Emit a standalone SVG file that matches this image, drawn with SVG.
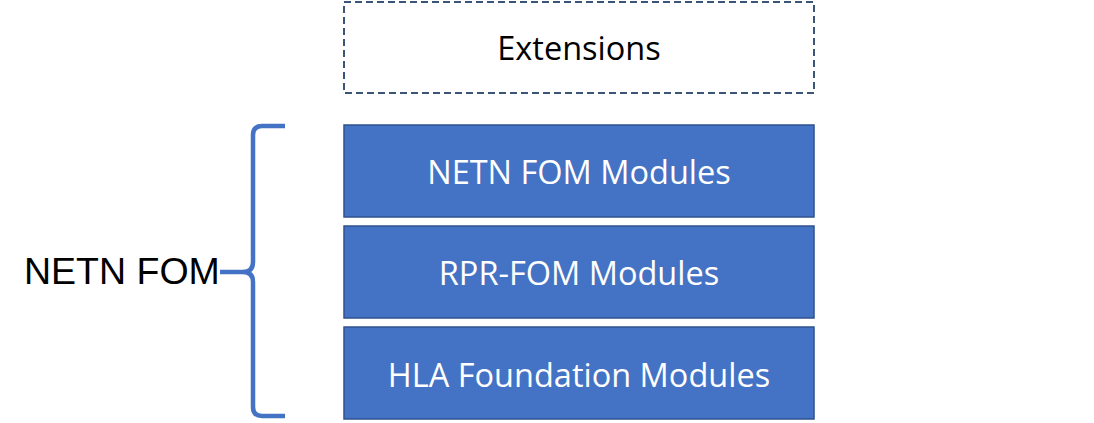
<svg xmlns="http://www.w3.org/2000/svg" width="1094" height="423" viewBox="0 0 1094 423">
<style>
.box{fill:#4472C4;stroke:#2F528F;stroke-width:1.5}
.lbl{font-family:"Open Sans","Liberation Sans",sans-serif;font-size:32.5px;text-anchor:middle;fill:#fff}
.ext{fill:#fff;stroke:#3B5578;stroke-width:2;stroke-dasharray:7,4}
.brace{fill:none;stroke:#4472C4;stroke-width:4.5}
</style>
<rect width="1094" height="423" fill="#fff"/>
<g id="extensions">
<rect class="ext" x="344" y="2" width="470" height="91"/>
<text class="lbl" x="579" y="60" style="fill:#000">Extensions</text>
</g>
<g id="netn-fom-modules">
<rect class="box" x="344" y="125" width="470" height="92"/>
<text class="lbl" x="579" y="184">NETN FOM Modules</text>
</g>
<g id="rpr-fom-modules">
<rect class="box" x="344" y="226" width="470" height="92"/>
<text class="lbl" x="579" y="285">RPR-FOM Modules</text>
</g>
<g id="hla-foundation-modules">
<rect class="box" x="344" y="327" width="470" height="92"/>
<text class="lbl" x="579" y="387">HLA Foundation Modules</text>
</g>
<g id="netn-fom">
<text x="24" y="284" font-family="Liberation Sans, Arial, sans-serif" font-size="37.5" fill="#000">NETN FOM</text>
</g>
<g id="connectors">
<path class="brace" d="M285,126 L262,126 Q253,126 253,135 L253,262 Q253,272 243,272 L220,272 M243,272 Q253,272 253,282 L253,407 Q253,416 262,416 L285,416"/>
</g>
</svg>
